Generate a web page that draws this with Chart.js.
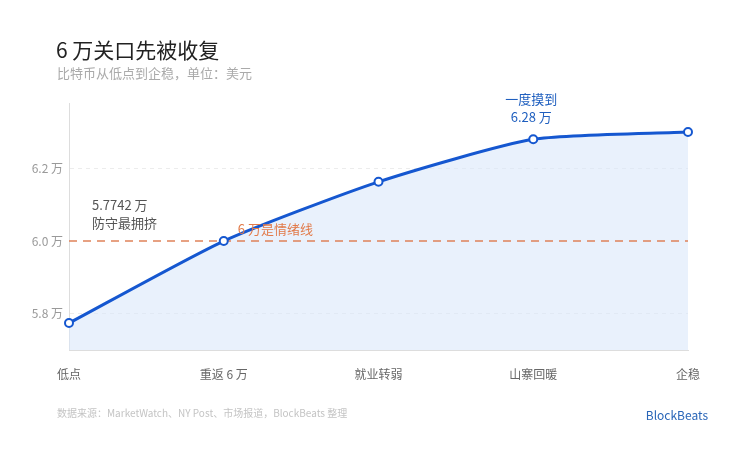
<!DOCTYPE html>
<html>
<head>
<meta charset="utf-8">
<script src="https://cdn.jsdelivr.net/npm/chart.js@4/dist/chart.umd.min.js"></script>
<style>
  html, body { margin: 0; padding: 0; background: #fff; }
  #wrap { position: relative; width: 750px; height: 450px; }
  canvas { display: block; }
</style>
</head>
<body>
<div id="wrap"><canvas id="chart" width="750" height="450"></canvas></div>
<script>
const labels = ['低点', '重返 6 万', '就业转弱', '山寨回暖', '企稳'];
const prices = [5.7742, 6.0, 6.163, 6.28, 6.30];
const sentimentLine = [6.0, 6.0, 6.0, 6.0, 6.0];
const yTicks = [5.8, 6.0, 6.2];

const FONT = '"Noto Sans CJK SC", "Noto Sans", sans-serif';

const textPlugin = {
    id: 'texts',
    afterDraw(chart) {
        const ctx = chart.ctx;
        const x = chart.scales.x;
        const y = chart.scales.y;
        ctx.save();
        ctx.textBaseline = 'middle';

        ctx.fillStyle = '#222';
        ctx.font = '21px ' + FONT;
        ctx.textAlign = 'left';
        ctx.fillText('6 万关口先被收复', 56, 50);

        ctx.fillStyle = '#aaa';
        ctx.font = '13px ' + FONT;
        ctx.fillText('比特币从低点到企稳，单位：美元', 57, 73);

        ctx.fillStyle = '#c4c4c4';
        ctx.font = '10px ' + FONT;
        ctx.fillText('数据来源：MarketWatch、NY Post、市场报道，BlockBeats 整理', 57, 413);

        ctx.fillStyle = '#2a66b8';
        ctx.font = '12px ' + FONT;
        ctx.textAlign = 'right';
        ctx.fillText('BlockBeats', 708, 415);

        // annotations
        ctx.font = '13px ' + FONT;
        ctx.textAlign = 'left';
        ctx.fillStyle = '#555';
        const lowY = y.getPixelForValue(prices[0]);
        ctx.fillText('5.7742 万', x.getPixelForValue(0) + 23, lowY - 118);
        ctx.fillText('防守最拥挤', x.getPixelForValue(0) + 23, lowY - 100);

        ctx.fillStyle = '#e27b4b';
        ctx.fillText('6 万是情绪线', x.getPixelForValue(1) + 14, y.getPixelForValue(6.0) - 12);

        ctx.fillStyle = '#1f5fbf';
        ctx.textAlign = 'center';
        const peakY = y.getPixelForValue(prices[3]);
        ctx.fillText('一度摸到', x.getPixelForValue(3) - 2, peakY - 40);
        ctx.fillText('6.28 万', x.getPixelForValue(3) - 2, peakY - 22);
        ctx.restore();
    }
};

new Chart(document.getElementById('chart').getContext('2d'), {
    type: 'line',
    data: {
        labels: labels,
        datasets: [{
            label: '比特币',
            data: prices,
            borderColor: '#1557d0',
            backgroundColor: 'rgba(218,231,250,0.6)',
            fill: 'start',
            tension: 0.2,
            borderWidth: 3,
            pointRadius: 4,
            pointBorderWidth: 2,
            pointBackgroundColor: '#fff',
            pointBorderColor: '#1557d0',
            order: 1
        }, {
            label: '情绪线',
            data: sentimentLine,
            borderColor: '#e0835a',
            borderDash: [8, 6],
            borderWidth: 1.5,
            pointRadius: 0,
            fill: false,
            order: 2
        }]
    },
    options: {
        responsive: false,
        animation: false,
        layout: { padding: { top: 103, right: 62, left: 0, bottom: 0 } },
        plugins: {
            legend: { display: false },
            tooltip: { enabled: false },
            filler: { drawTime: 'beforeDatasetsDraw' }
        },
        scales: {
            x: {
                offset: false,
                grid: { display: false, drawTicks: false },
                border: { color: '#ddd', width: 1 },
                ticks: {
                    color: '#666',
                    font: { family: FONT, size: 12 },
                    padding: 17,
                    maxRotation: 0
                },
                afterFit(scale) { scale.height = 100; }
            },
            y: {
                min: 5.7,
                max: 6.38,
                afterBuildTicks(scale) {
                    scale.ticks = yTicks.map(v => ({ value: v }));
                },
                grid: {
                    color: (c) => c.tick && c.tick.value === 6.0 ? 'rgba(0,0,0,0)' : '#ececec',
                    drawTicks: false
                },
                border: { color: '#ddd', width: 1, dash: [4, 4] },
                ticks: {
                    color: '#999',
                    font: { family: FONT, size: 12 },
                    padding: 6,
                    callback: (v) => v.toFixed(1) + ' 万'
                },
                afterFit(scale) { scale.width = 69; }
            }
        }
    },
    plugins: [textPlugin]
});
</script>
</body>
</html>
